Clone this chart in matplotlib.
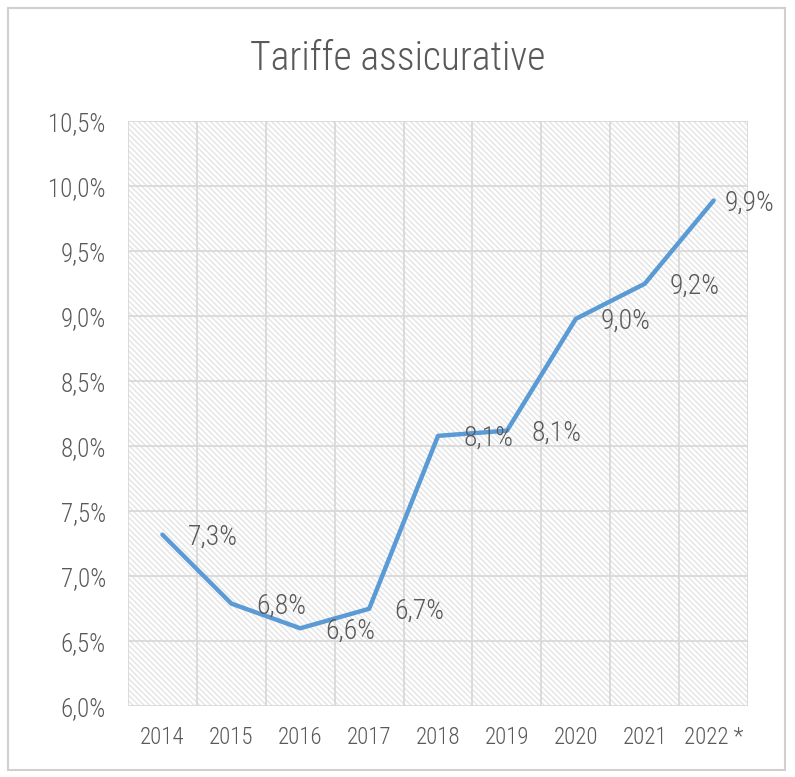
import matplotlib.pyplot as plt
from matplotlib.patches import Rectangle
import matplotlib as mpl

years = ['2014', '2015', '2016', '2017', '2018', '2019', '2020', '2021', '2022 *']
rates = [7.32, 6.79, 6.60, 6.75, 8.08, 8.12, 8.98, 9.25, 9.89]
labels = ['7,3%', '6,8%', '6,6%', '6,7%', '8,1%', '8,1%', '9,0%', '9,2%', '9,9%']
yticks = [6.0, 6.5, 7.0, 7.5, 8.0, 8.5, 9.0, 9.5, 10.0, 10.5]

plt.rcParams['font.family'] = ['Roboto Condensed', 'DejaVu Sans']
plt.rcParams['font.weight'] = 'light'
mpl.rcParams['hatch.linewidth'] = 1.0

text_color = '#595959'
grid_color = '#d9d9d9'

fig = plt.figure(figsize=(7.95, 7.77), dpi=100)

# outer frame of the chart
fig.patches.append(Rectangle((0.010, 0.009), 0.978, 0.981, transform=fig.transFigure,
                             fill=False, edgecolor='#d0d0d0', linewidth=1.5))

ax = fig.add_axes([0.161, 0.091, 0.780, 0.753])

# hatched plot area
ax.add_patch(Rectangle((0, 0), 1, 1, transform=ax.transAxes, facecolor='white',
                       edgecolor='#e4e4e4', linewidth=0, hatch='\\' * 6, zorder=0))

x = list(range(len(years)))
ax.plot(x, rates, color='#5b9bd5', linewidth=3.2, zorder=3, solid_capstyle='round')

for i, (xi, yi, lab) in enumerate(zip(x, rates, labels)):
    # last label is pushed closer to the point so it fits inside the frame
    dx = 8 if i == len(x) - 1 else 18
    ax.annotate(lab, (xi, yi), xytext=(dx, -2), textcoords='offset points',
                ha='left', va='center', fontsize=20, color=text_color, zorder=4)

ax.set_xlim(-0.5, len(years) - 0.5)
ax.set_ylim(6.0, 10.5)
ax.set_yticks(yticks)
ax.set_yticklabels([f"{v:.1f}%".replace('.', ',') for v in yticks])
ax.set_xticks(x)
ax.set_xticklabels(years)

# grid: horizontal at ticks, vertical between categories
for v in yticks:
    ax.axhline(v, color=grid_color, linewidth=1.3, zorder=1)
for b in [i - 0.5 for i in range(len(years) + 1)]:
    ax.axvline(b, color=grid_color, linewidth=1.3, zorder=1)

for s in ax.spines.values():
    s.set_visible(False)
ax.tick_params(length=0, labelcolor=text_color)
ax.tick_params(axis='x', labelsize=16.5, pad=14)
ax.tick_params(axis='y', labelsize=18, pad=16)

fig.text(0.5, 0.925, 'Tariffe assicurative', ha='center', va='center',
         fontsize=28.5, color=text_color)

fig.savefig('out.png', dpi=100)
